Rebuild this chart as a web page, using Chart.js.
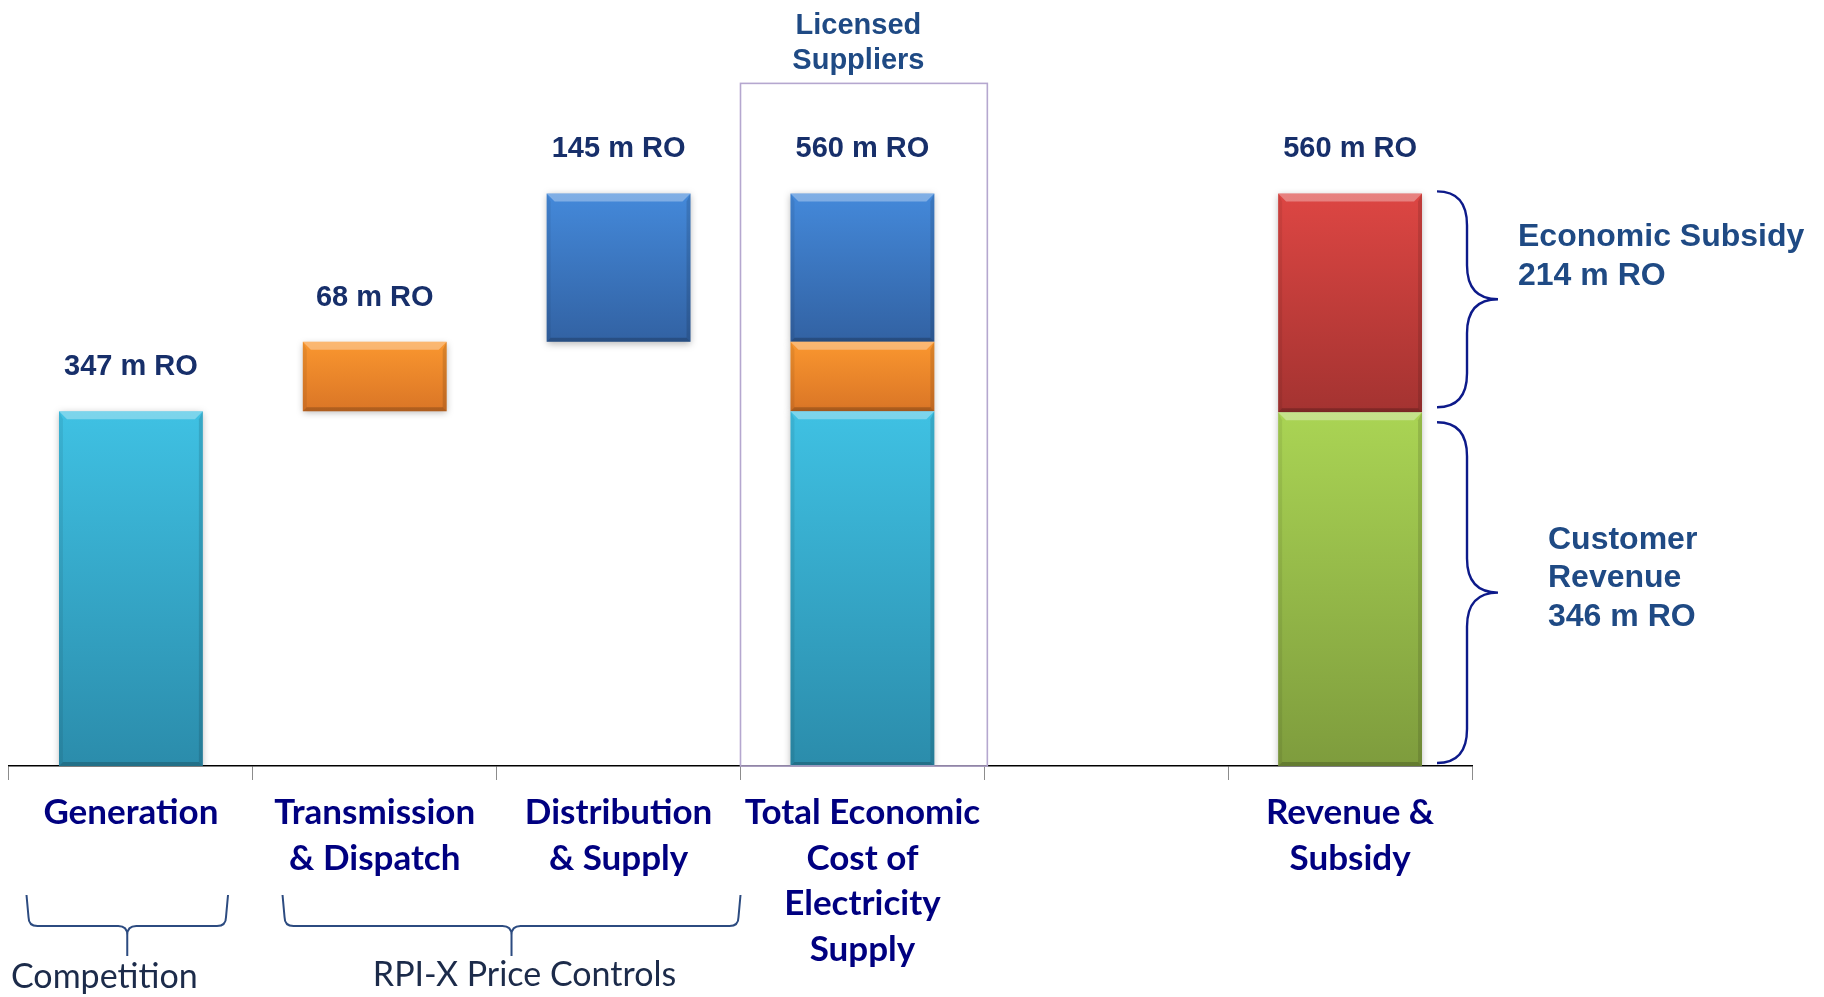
<!DOCTYPE html>
<html>
<head>
<meta charset="utf-8">
<script src="https://cdn.jsdelivr.net/npm/chart.js@4.4.1/dist/chart.umd.min.js"></script>
<style>
  html, body { margin: 0; padding: 0; background: #fff; }
  #wrap { width: 1824px; height: 997px; position: relative; }
</style>
</head>
<body>
<div id="wrap"><canvas id="chart"></canvas></div>
<script>
'use strict';

// ── Data ───────────────────────────────────────────────────────
const categories = [
  ['Generation'],
  ['Transmission', '& Dispatch'],
  ['Distribution', '& Supply'],
  ['Total Economic', 'Cost of', 'Electricity', 'Supply'],
  [''],
  ['Revenue &', 'Subsidy'],
];
const costParts   = ['Generation', 'Transmission & Dispatch', 'Distribution & Supply'];
const costValues  = [347, 68, 145];          // m RO
const fundParts   = ['Customer Revenue', 'Economic Subsidy'];
const fundValues  = [346, 214];              // m RO
const valueLabels = ['347 m RO', '68 m RO', '145 m RO', '560 m RO', '', '560 m RO'];
const fundLabels  = [['Customer', 'Revenue', '346 m RO'], ['Economic Subsidy', '214 m RO']];
const groupLabels = ['Competition', 'RPI-X Price Controls'];
const boxLabel    = ['Licensed', 'Suppliers'];

const TOTAL_IDX = 3;
const FUND_IDX  = 5;

const COST_COLORS = [['#3fc1e3', '#2b8cab'], ['#fa972f', '#da7526'], ['#4489da', '#3262a3']];
const FUND_COLORS = [['#aad454', '#7e9c3d'], ['#dd4643', '#a43331']];

const ARIAL = '"Liberation Sans", Arial, sans-serif';
const VALUE_BLUE = '#172f6a';
const LABEL_BLUE = '#1f4a84';
const BRACE_BLUE = '#0d1a8a';

// cumulative [from, to] ranges for floating bars
function ranges(values) {
  let acc = 0;
  return values.map(v => [acc, acc += v]);
}
const costRanges = ranges(costValues);
const fundRanges = ranges(fundValues);

const datasets = [];
costParts.forEach((name, i) => {
  const data = categories.map(() => null);
  data[i] = costRanges[i];
  data[TOTAL_IDX] = costRanges[i];
  datasets.push({ label: name, data, colors: COST_COLORS[i] });
});
fundParts.forEach((name, i) => {
  const data = categories.map(() => null);
  data[FUND_IDX] = fundRanges[i];
  datasets.push({ label: name, data, colors: FUND_COLORS[i] });
});

// ── Styling helpers ────────────────────────────────────────────
function barFill(ctx) {
  const [top, bottom] = ctx.dataset.colors;
  const chart = ctx.chart;
  if (!chart.chartArea || !ctx.raw) return top;
  const y = chart.scales.y;
  const g = chart.ctx.createLinearGradient(0, y.getPixelForValue(ctx.raw[1]), 0, y.getPixelForValue(ctx.raw[0]));
  g.addColorStop(0, top);
  g.addColorStop(1, bottom);
  return g;
}

const barBevel = {
  id: 'barBevel',
  beforeDatasetsDraw(chart) {
    const c = chart.ctx;
    c.save();
    c.shadowColor = 'rgba(0,0,0,0.28)';
    c.shadowBlur = 7;
    c.shadowOffsetY = 2;
  },
  afterDatasetsDraw(chart) {
    const c = chart.ctx;
    c.restore();
    const b = 8;
    chart.data.datasets.forEach((ds, di) => {
      chart.getDatasetMeta(di).data.forEach((el, i) => {
        if (!ds.data[i]) return;
        const { x, y, base, width } = el.getProps(['x', 'y', 'base', 'width'], true);
        const l = x - width / 2, r = x + width / 2;
        const t = Math.min(y, base), btm = Math.max(y, base);
        const poly = (pts, fill) => {
          c.beginPath();
          c.moveTo(pts[0][0], pts[0][1]);
          pts.slice(1).forEach(p => c.lineTo(p[0], p[1]));
          c.closePath();
          c.fillStyle = fill;
          c.fill();
        };
        poly([[l, t], [r, t], [r - b, t + b], [l + b, t + b]], 'rgba(255,255,255,0.32)');
        poly([[l, t], [l + 4, t + b], [l + 4, btm - 4], [l, btm]], 'rgba(0,0,0,0.07)');
        poly([[r, t], [r - 4, t + b], [r - 4, btm - 4], [r, btm]], 'rgba(0,0,0,0.12)');
        poly([[l, btm], [l + 4, btm - 4], [r - 4, btm - 4], [r, btm]], 'rgba(0,0,0,0.2)');
      });
    });
  },
};

function braceV(c, x0, x1, x2, yTop, yBot) {
  const ym = (yTop + yBot) / 2, r = Math.min(34, (yBot - yTop) / 4);
  c.beginPath();
  c.moveTo(x0, yTop);
  c.quadraticCurveTo(x1, yTop, x1, yTop + r);
  c.lineTo(x1, ym - r);
  c.quadraticCurveTo(x1, ym, x2, ym);
  c.quadraticCurveTo(x1, ym, x1, ym + r);
  c.lineTo(x1, yBot - r);
  c.quadraticCurveTo(x1, yBot, x0, yBot);
  c.stroke();
}

function braceH(c, xL, xR, yA, yB, yC) {
  const xm = (xL + xR) / 2, r = 9;
  c.beginPath();
  c.moveTo(xL - 2, yA);
  c.lineTo(xL, yB - r);
  c.quadraticCurveTo(xL, yB, xL + r, yB);
  c.lineTo(xm - r, yB);
  c.quadraticCurveTo(xm, yB, xm, yB + r);
  c.lineTo(xm, yC);
  c.moveTo(xR + 2, yA);
  c.lineTo(xR, yB - r);
  c.quadraticCurveTo(xR, yB, xR - r, yB);
  c.lineTo(xm + r, yB);
  c.quadraticCurveTo(xm, yB, xm, yB + r);
  c.stroke();
}

// ── Annotations ────────────────────────────────────────────────
const annotations = {
  id: 'annotations',
  afterDraw(chart) {
    const c = chart.ctx;
    const xs = chart.scales.x, ys = chart.scales.y;
    const cw = xs.getPixelForValue(1) - xs.getPixelForValue(0);
    const y0 = ys.getPixelForValue(0);
    const barW = chart.getDatasetMeta(datasets.length - 1).data[FUND_IDX].width;

    c.save();
    c.textAlign = 'center';
    c.textBaseline = 'middle';

    // value labels above each column
    c.fillStyle = VALUE_BLUE;
    c.font = `bold 29px ${ARIAL}`;
    valueLabels.forEach((txt, i) => {
      if (!txt) return;
      const top = Math.max(...datasets.map(d => (d.data[i] ? d.data[i][1] : 0)));
      c.fillText(txt, xs.getPixelForValue(i), ys.getPixelForValue(top) - 44);
    });

    // licensed suppliers box
    const totalTop = ys.getPixelForValue(costRanges[costRanges.length - 1][1]);
    const bx = xs.getPixelForValue(TOTAL_IDX) - cw / 2;
    const boxTop = totalTop - 110;
    c.strokeStyle = '#b5a7cf';
    c.lineWidth = 1.6;
    c.strokeRect(bx, boxTop, cw + 3, y0 - boxTop);
    c.fillStyle = LABEL_BLUE;
    c.font = `bold 29px ${ARIAL}`;
    c.fillText(boxLabel[0], bx + cw / 2 - 4, boxTop - 57);
    c.fillText(boxLabel[1], bx + cw / 2 - 4, boxTop - 22);

    // braces beside revenue & subsidy
    const barRight = xs.getPixelForValue(FUND_IDX) + barW / 2;
    const x0 = barRight + 15, x1 = x0 + 30, x2 = x1 + 31;
    c.strokeStyle = BRACE_BLUE;
    c.lineWidth = 2.4;
    const split = ys.getPixelForValue(fundRanges[0][1]);
    const topY = ys.getPixelForValue(fundRanges[1][1]);
    braceV(c, x0, x1, x2, topY - 2, split - 5);
    braceV(c, x0, x1, x2, split + 10, y0 - 3);

    c.textAlign = 'left';
    c.font = `bold 32px ${ARIAL}`;
    fundLabels[1].forEach((t, k) => c.fillText(t, x2 + 20, topY + 44 + k * 38.5));
    fundLabels[0].forEach((t, k) => c.fillText(t, x2 + 50, y0 - 226 + k * 38.5));

    // braces under the cost columns
    c.strokeStyle = '#2c4b80';
    c.lineWidth = 2;
    const g0 = xs.getPixelForValue(0), g1 = xs.getPixelForValue(1);
    const gL = bx - 2;
    braceH(c, g0 - 0.42 * cw, g0 + 0.39 * cw, y0 + 129, y0 + 160, y0 + 190);
    braceH(c, g1 - 0.37 * cw, gL, y0 + 129, y0 + 160, y0 + 190);

    c.fillStyle = '#1c2b4a';
    c.font = '34px Lato, "Open Sans", sans-serif';
    c.textAlign = 'left';
    c.fillText(groupLabels[0], g0 - cw / 2 + 2, y0 + 211);
    c.textAlign = 'center';
    c.fillText(groupLabels[1], (g1 - 0.37 * cw + gL) / 2 + 13, y0 + 209);
    c.restore();
  },
};

// ── Chart ──────────────────────────────────────────────────────
new Chart(document.getElementById('chart'), {
  type: 'bar',
  data: {
    labels: categories,
    datasets: datasets.map(d => ({
      ...d,
      backgroundColor: barFill,
      borderWidth: 0,
      grouped: false,
      barPercentage: 0.59,
      categoryPercentage: 1,
    })),
  },
  options: {
    responsive: true,
    maintainAspectRatio: false,
    animation: false,
    layout: { padding: { left: 9, right: 352, top: 40, bottom: 15 } },
    plugins: { legend: { display: false }, tooltip: { enabled: false } },
    scales: {
      x: {
        offset: true,
        grid: { offset: true, drawOnChartArea: false, drawTicks: true, tickLength: 14, color: '#8c8c8c', lineWidth: 1 },
        border: { display: true, color: '#000', width: 1.5 },
        ticks: {
          color: '#000080',
          font: { family: 'Lato, "Open Sans", sans-serif', weight: 'bold', size: 35, lineHeight: 1.3 },
          padding: 10,
          maxRotation: 0,
          minRotation: 0,
          autoSkip: false,
        },
      },
      y: { display: false, min: 0, max: 710 },
    },
  },
  plugins: [barBevel, annotations],
});
</script>
</body>
</html>
